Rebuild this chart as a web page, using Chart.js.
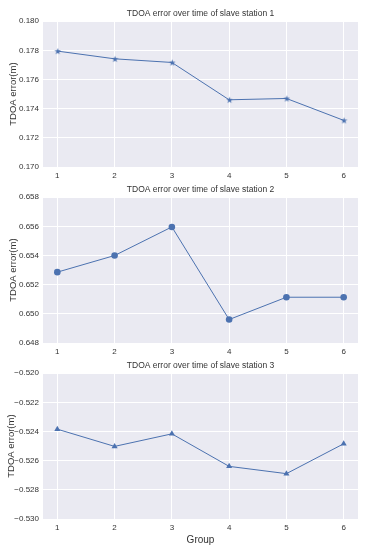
<!DOCTYPE html>
<html>
<head>
<meta charset="utf-8">
<script src="https://cdn.jsdelivr.net/npm/chart.js@4.4.0/dist/chart.umd.min.js"></script>
<style>
  body { margin: 0; background: #fff; }
  canvas { position: absolute; left: 0; }
</style>
</head>
<body>
<canvas id="c1" width="365" height="181" style="top:0"></canvas>
<canvas id="c2" width="365" height="181" style="top:176px"></canvas>
<canvas id="c3" width="365" height="198" style="top:352px"></canvas>
<script>
'use strict';
const groups = [1, 2, 3, 4, 5, 6];
const groupLabels = ['1', '2', '3', '4', '5', '6'];
const station1 = [0.17795, 0.17742, 0.17717, 0.17461, 0.17470, 0.17320];
const station2 = [0.65286, 0.65400, 0.65596, 0.64961, 0.65114, 0.65114];
const station3 = [-0.52384, -0.52502, -0.52416, -0.52639, -0.52689, -0.52484];
const titles = [
  'TDOA error over time of slave station 1',
  'TDOA error over time of slave station 2',
  'TDOA error over time of slave station 3'
];
const yRanges = [[0.170, 0.180], [0.648, 0.658], [-0.530, -0.520]];

const LINE = '#4C72B0';
const FONT = '"Liberation Sans", Arial, sans-serif';
const TEXT = '#333';

// filled 5-point star like matplotlib's '*' marker
function starMarker(r) {
  const c = document.createElement('canvas');
  c.width = c.height = r * 2 + 2;
  const ctx = c.getContext('2d');
  ctx.fillStyle = LINE;
  ctx.beginPath();
  for (let i = 0; i < 10; i++) {
    const rad = i % 2 ? r * 0.42 : r;
    const a = -Math.PI / 2 + i * Math.PI / 5;
    ctx.lineTo(r + 1 + rad * Math.cos(a), r + 1 + rad * Math.sin(a));
  }
  ctx.closePath();
  ctx.fill();
  return c;
}

const plotBg = {
  id: 'plotBg',
  afterLayout(chart) {
    // center the title over the plot area, like matplotlib does
    if (chart.titleBlock) {
      chart.titleBlock.left = chart.chartArea.left;
      chart.titleBlock.right = chart.chartArea.right;
    }
  },
  beforeDraw(chart) {
    const a = chart.chartArea;
    const ctx = chart.ctx;
    ctx.save();
    ctx.fillStyle = '#EAEAF2';
    ctx.fillRect(a.left, a.top, a.right - a.left, a.bottom - a.top);
    ctx.restore();
  }
};

function fmt(v) {
  const s = v.toFixed(3);
  return s.replace('-', '\u2212');
}

function makeChart(id, values, idx, marker, radius, last) {
  const data = groups.map((g, i) => ({x: g, y: values[i]}));
  new Chart(document.getElementById(id), {
    type: 'line',
    data: {
      datasets: [{
        data: data,
        borderColor: LINE,
        backgroundColor: LINE,
        borderWidth: 1,
        pointStyle: marker,
        pointRadius: radius,
        pointBorderWidth: 0,
        pointBackgroundColor: LINE,
        tension: 0
      }]
    },
    plugins: [plotBg],
    options: {
      responsive: false,
      animation: false,
      layout: {padding: {left: 0, right: 7, top: 0, bottom: last ? 4 : 0}},
      plugins: {
        legend: {display: false},
        tooltip: {enabled: false},
        title: {
          display: true,
          text: titles[idx],
          color: TEXT,
          font: {family: FONT, size: 8.5, weight: 'normal'},
          padding: {top: 9, bottom: 2}
        }
      },
      scales: {
        x: {
          type: 'linear',
          min: 0.75,
          max: 6.25,
          afterBuildTicks: (s) => { s.ticks = groups.map(g => ({value: g})); },
          afterFit: (s) => { s.height = last ? 27 : 14; },
          grid: {color: '#ffffff', lineWidth: 1, drawTicks: false},
          border: {display: false},
          ticks: {
            padding: 4,
            color: TEXT,
            font: {family: FONT, size: 8},
            callback: (v) => groupLabels[groups.indexOf(v)]
          },
          title: {
            display: last,
            text: 'Group',
            color: TEXT,
            font: {family: FONT, size: 10},
            padding: {top: 0, bottom: 0}
          }
        },
        y: {
          min: yRanges[idx][0],
          max: yRanges[idx][1],
          afterFit: (s) => { s.width = 43; },
          grid: {color: '#ffffff', lineWidth: 1, drawTicks: false},
          border: {display: false},
          ticks: {
            stepSize: 0.002,
            padding: 4,
            color: TEXT,
            font: {family: FONT, size: 8},
            callback: (v) => fmt(v)
          },
          title: {
            display: true,
            text: 'TDOA error(m)',
            color: TEXT,
            font: {family: FONT, size: 9.5},
            padding: {top: last ? 6 : 8, bottom: 0}
          }
        }
      }
    }
  });
}

makeChart('c1', station1, 0, starMarker(3.4), 3.4, false);
makeChart('c2', station2, 1, 'circle', 3.3, false);
makeChart('c3', station3, 2, 'triangle', 3.5, true);
</script>
</body>
</html>
